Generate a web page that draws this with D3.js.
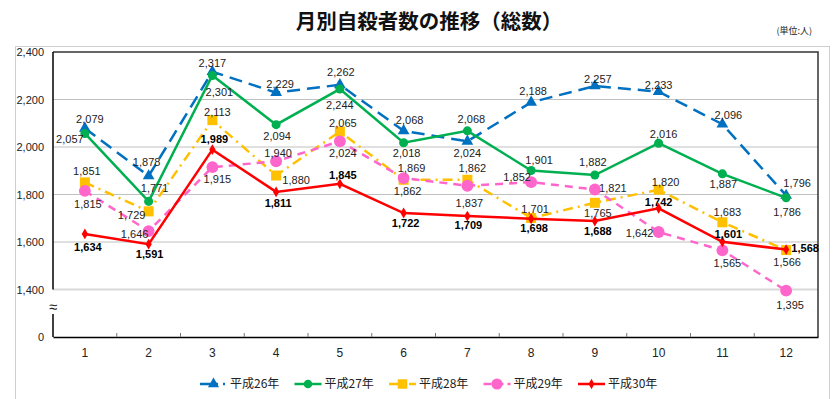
<!DOCTYPE html>
<html lang="ja">
<head>
  <meta charset="UTF-8">
  <title>月別自殺者数の推移</title>
  <style>
    body { margin: 0; background: #fff; }
    svg text { font-family: "Liberation Sans", Arial, sans-serif; }
    .jp { font-family: "Noto Sans CJK JP", sans-serif !important; }
  </style>
</head>
<body>
  <div id="chart"></div>
<script src="https://cdn.jsdelivr.net/npm/d3@7/dist/d3.min.js"></script>
<script type="text/javascript">
  // 月
  const months = [1, 2, 3, 4, 5, 6, 7, 8, 9, 10, 11, 12]
  // 各年の月別自殺者数
  const h26 = [2079, 1878, 2317, 2229, 2262, 2068, 2024, 2188, 2257, 2233, 2096, 1796]
  const h27 = [2057, 1771, 2301, 2094, 2244, 2018, 2068, 1901, 1882, 2016, 1887, 1786]
  const h28 = [1851, 1729, 2113, 1880, 2065, 1862, 1862, 1701, 1765, 1820, 1683, 1566]
  const h29 = [1815, 1646, 1915, 1940, 2024, 1869, 1837, 1852, 1821, 1642, 1565, 1395]
  const h30 = [1634, 1591, 1989, 1811, 1845, 1722, 1709, 1698, 1688, 1742, 1601, 1568]
  const seriesNames = ["平成26年", "平成27年", "平成28年", "平成29年", "平成30年"]
  const yTicks = [1400, 1600, 1800, 2000, 2200, 2400]

  // ラベルの位置（点からのずれ）
  const labelOffsets = [
    [[5,-9],[-2,-14],[0,-9],[4,-9],[1,-13],[6,-11],[0,12],[2,-11],[3,-7],[0,-7],[6,-9],[11,-12]],
    [[-15,6],[6,-13],[7,16],[1,11],[0,16],[3,10],[4,-12],[8,-11],[-2,-13],[5,-9],[1,10],[1,14]],
    [[2,-11],[-17,4],[5,-8],[20,4],[3,-9],[4,11],[5,-12],[4,-9],[3,10],[7,-8],[5,-10],[1,12]],
    [[3,13],[-14,3],[5,12],[2,-8],[3,12],[8,-10],[2,17],[-14,-5],[18,-2],[-19,1],[5,13],[4,14]],
    [[3,13],[1,10],[2,-11],[2,11],[3,-9],[2,10],[1,9],[3,9],[3,10],[0,-6],[6,-8],[19,-2]]
  ]

  const styles = [
    { color: "#0070C0", dash: "13,7", symbol: d3.symbolTriangle, size: 60 },
    { color: "#00B050", dash: null, symbol: d3.symbolCircle, size: 64 },
    { color: "#FFC000", dash: "10,5,2,5", symbol: d3.symbolSquare, size: 100 },
    { color: "#FF66CC", dash: "8,6", symbol: d3.symbolCircle, size: 110 },
    { color: "#FF0000", dash: null, symbol: d3.symbolDiamond, size: 34 }
  ]

  const series = [h26, h27, h28, h29, h30].map((values, i) => ({
    name: seriesNames[i], values: values, style: styles[i], offsets: labelOffsets[i], bold: i === 4
  }))

  // 画布
  const width = 837
  const height = 399
  const svg = d3.select("#chart").append("svg").attr("width", width).attr("height", height)

  const plot = { left: 53, right: 818, top: 52, bottom: 337 }

  // 外枠
  svg.append("rect").attr("x", 15.5).attr("y", 46.5).attr("width", 814).attr("height", 380)
    .attr("fill", "none").attr("stroke", "#cfcfcf")

  // タイトル
  svg.append("text").attr("class", "jp").attr("x", 429).attr("y", 29)
    .attr("text-anchor", "middle").attr("font-size", "20.5px").attr("font-weight", 700)
    .attr("fill", "#111").text("月別自殺者数の推移（総数）")
  svg.append("text").attr("class", "jp").attr("x", 812).attr("y", 34)
    .attr("text-anchor", "end").attr("font-size", "9px").attr("fill", "#222").text("(単位:人)")

  // 比例尺
  const x = d3.scaleBand().domain(months).range([plot.left, plot.right]).padding(0)
  const y = d3.scaleLinear().domain([1200, 2400]).range([plot.bottom, plot.top])
  const cx = m => x(m) + x.bandwidth() / 2

  // グリッド
  svg.append("g").selectAll("line").data(yTicks.filter(t => t < 2400)).enter().append("line")
    .attr("x1", plot.left).attr("x2", plot.right)
    .attr("y1", d => y(d)).attr("y2", d => y(d))
    .attr("stroke", d => d === 1400 ? "#d9d9d9" : "#c0c0c0")
    .attr("stroke-width", d => d === 1400 ? 2 : 1)

  // 枠線（上・右）
  svg.append("path")
    .attr("d", `M${plot.left},${plot.top}H${plot.right}V${plot.bottom}`)
    .attr("fill", "none").attr("stroke", "#333").attr("stroke-width", 1.5)

  // y軸
  const yAxis = svg.append("g").attr("transform", `translate(${plot.left},0)`)
    .call(d3.axisLeft(y).tickValues(yTicks).tickSize(0).tickPadding(9).tickFormat(d3.format(",")))
  yAxis.select(".domain").remove()
  yAxis.selectAll("text").attr("font-size", "11px").attr("fill", "#222")
    .attr("font-family", "Liberation Sans, Arial, sans-serif")
  yAxis.append("text").attr("x", -9).attr("y", y(1200)).attr("dy", "0.32em")
    .attr("text-anchor", "end").attr("font-size", "11px").attr("fill", "#222").text("0")
  svg.append("line").attr("x1", plot.left).attr("x2", plot.left).attr("y1", plot.top).attr("y2", y(1400))
    .attr("stroke", "#000").attr("stroke-width", 1.5)
  svg.append("line").attr("x1", plot.left).attr("x2", plot.left).attr("y1", 314).attr("y2", plot.bottom)
    .attr("stroke", "#000").attr("stroke-width", 1.5)
  // 省略記号
  svg.append("text").attr("x", plot.left).attr("y", 312).attr("text-anchor", "middle")
    .attr("font-size", "15px").attr("fill", "#222").text("≈")

  // x軸
  const xAxis = svg.append("g").attr("transform", `translate(0,${plot.bottom})`)
    .call(d3.axisBottom(x).tickSize(0).tickPadding(11))
  xAxis.select(".domain").attr("stroke", "#000").attr("stroke-width", 1.5)
  xAxis.selectAll("text").attr("font-size", "12px").attr("fill", "#222")
    .attr("font-family", "Liberation Sans, Arial, sans-serif")
  xAxis.selectAll(".tickmark").data(months.slice(1)).enter().append("line")
    .attr("x1", d => x(d)).attr("x2", d => x(d)).attr("y1", 0).attr("y2", -4)
    .attr("stroke", "#777")

  // 折れ線
  const line = d3.line().x((d, i) => cx(months[i])).y(d => y(d))
  const g = svg.append("g")
  series.forEach(s => {
    g.append("path").datum(s.values).attr("d", line)
      .attr("fill", "none").attr("stroke", s.style.color).attr("stroke-width", 2.5)
      .attr("stroke-dasharray", s.style.dash)
    g.selectAll(null).data(s.values).enter().append("path")
      .attr("d", d3.symbol().type(s.style.symbol).size(s.style.size))
      .attr("transform", (d, i) => `translate(${cx(months[i])},${y(d)})`)
      .attr("fill", s.style.color)
  })

  // データラベル
  series.forEach(s => {
    svg.append("g").selectAll("text").data(s.values).enter().append("text")
      .attr("x", (d, i) => cx(months[i]) + s.offsets[i][0])
      .attr("y", (d, i) => y(d) + s.offsets[i][1] + 4)
      .attr("text-anchor", "middle")
      .attr("font-size", "11px")
      .attr("font-weight", s.bold ? 700 : 400)
      .attr("fill", s.bold ? "#000" : "#222")
      .text(d => d3.format(",")(d))
  })

  // 凡例
  const legend = svg.append("g").attr("transform", "translate(200,384)")
  series.forEach((s, i) => {
    const lg = legend.append("g").attr("transform", `translate(${i * 94.5},0)`)
    lg.append("line").attr("x1", 0).attr("x2", 27).attr("y1", 0).attr("y2", 0)
      .attr("stroke", s.style.color).attr("stroke-width", 2.5)
      .attr("stroke-dasharray", s.style.dash ? (i === 0 ? "18,5,2,5" : i === 2 ? "9,4,2,5" : "8,4") : null)
    lg.append("path").attr("d", d3.symbol().type(s.style.symbol).size(s.style.size * 0.9))
      .attr("transform", "translate(13.5,0)").attr("fill", s.style.color)
    lg.append("text").attr("class", "jp").attr("x", 30).attr("y", 0).attr("dy", "0.35em")
      .attr("font-size", "12px").attr("fill", "#222").text(s.name)
  })
</script>
</body>
</html>
